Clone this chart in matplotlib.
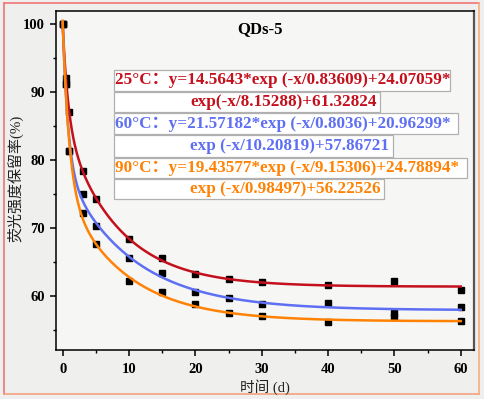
import numpy as np
import matplotlib.pyplot as plt
from matplotlib.patches import Rectangle
from matplotlib.lines import Line2D

plt.rcParams['font.family'] = ['Liberation Serif', 'Noto Sans CJK SC']

# ---- data ----
days = [0, 0.5, 1, 3, 5, 10, 15, 20, 25, 30, 40, 50, 60]
ret_25 = [100, 92.0, 87.1, 78.4, 74.3, 68.3, 65.5, 63.2, 62.4, 62.0, 61.6, 62.1, 60.8]
ret_60 = [100, 91.1, 81.3, 75.0, 70.3, 65.5, 63.4, 60.6, 59.7, 58.8, 58.9, 57.5, 58.3]
ret_90 = [100, 91.1, 81.3, 72.2, 67.6, 62.1, 60.6, 58.8, 57.5, 57.0, 56.1, 56.8, 56.3]

# fit parameters printed on the chart: A1, t1, A2, t2, y0
fit_25 = [14.5643, 0.83609, 24.07059, 8.15288, 61.32824]
fit_60 = [21.57182, 0.8036, 20.96299, 10.20819, 57.86721]
fit_90 = [19.43577, 9.15306, 24.78894, 0.98497, 56.22526]

eq_lines = [
    "25°C：y=14.5643*exp (-x/0.83609)+24.07059*",
    "exp(-x/8.15288)+61.32824",
    "60°C：y=21.57182*exp (-x/0.8036)+20.96299*",
    "exp (-x/10.20819)+57.86721",
    "90°C：y=19.43577*exp (-x/9.15306)+24.78894*",
    "exp (-x/0.98497)+56.22526",
]

c_red = '#c4101c'
c_blue = '#5f6ff3'
c_orange = '#ff8205'

W, H = 484, 399


def fx(px):
    return px / W


def fy(py):
    return 1 - py / H


def biexp(x, p):
    return p[0] * np.exp(-x / p[1]) + p[2] * np.exp(-x / p[3]) + p[4]


fig = plt.figure(figsize=(W / 100, H / 100), dpi=100, facecolor='#efefed')
ax = fig.add_axes([fx(56), fy(350), (474 - 56) / W, (350 - 11) / H])
ax.set_facecolor('#f6f6f4')

for ys in (ret_25, ret_60, ret_90):
    ax.plot(days, ys, 's', color='black', ms=5, zorder=2)

xx = np.linspace(0, 60, 600)
ax.plot(xx, biexp(xx, fit_25), color=c_red, lw=1.8, zorder=3)
ax.plot(xx, biexp(xx, fit_60), color=c_blue, lw=1.8, zorder=3)
ax.plot(xx, biexp(xx, fit_90), color=c_orange, lw=1.8, zorder=3)

ax.set_xlim(-1, 62)
ax.set_ylim(52, 101.9)
ax.set_xticks([0, 10, 20, 30, 40, 50, 60])
ax.set_xticks([5, 15, 25, 35, 45, 55], minor=True)
ax.set_yticks([60, 70, 80, 90, 100])
ax.set_yticks([55, 65, 75, 85, 95], minor=True)
ax.tick_params(which='major', direction='out', length=4.5, width=1.1, labelsize=10.5)
ax.tick_params(which='minor', direction='out', length=2.5, width=1.0)
ax.tick_params(axis='x', pad=5)
for lab in ax.get_xticklabels() + ax.get_yticklabels():
    lab.set_fontweight('bold')
for side in ['left', 'bottom', 'top']:
    ax.spines[side].set_linewidth(1.1)
ax.spines['right'].set_linewidth(1.6)
ax.spines['right'].set_color('#555555')

fig.text(fx(260), fy(29), "QDs-5", fontsize=12, fontweight='bold',
         ha='center', va='center')

fig.text(fx(265), fy(387), "时间 (d)", fontsize=10.5, ha='center', va='center',
         color='#222222')
fig.text(fx(15), fy(178), "荧光强度保留率(%)", fontsize=10.8, rotation=90,
         ha='center', va='center', color='#222222')

# equation boxes
box_right = [450, 380, 458, 393, 467, 384]
box_top = [70, 91.7, 113, 135, 157.7, 179.3]
box_bot = [90.7, 111.7, 134, 156.7, 178.3, 199.3]
text_left = [115, 190, 115, 190, 115, 190]
eq_colors = [c_red, c_red, c_blue, c_blue, c_orange, c_orange]
for i, line in enumerate(eq_lines):
    fig.patches.append(Rectangle((fx(114), fy(box_bot[i])),
                                 (box_right[i] - 114) / W,
                                 (box_bot[i] - box_top[i]) / H,
                                 transform=fig.transFigure, facecolor='white',
                                 edgecolor='#b0b0b0', lw=0.9, zorder=5))
    fig.text(fx(text_left[i]), fy((box_top[i] + box_bot[i]) / 2), line,
             fontsize=12.3, fontweight='bold', color=eq_colors[i],
             ha='left', va='center', zorder=6)

# outer frame
frame = [((4, 3), (479, 3), '#f07474'), ((4, 3), (4, 394), '#f07474'),
         ((4, 394), (479, 394), '#f3a27c'), ((479, 3), (479, 394), '#f5b07a')]
for (x0, y0), (x1, y1), col in frame:
    fig.lines.append(Line2D([fx(x0), fx(x1)], [fy(y0), fy(y1)],
                            transform=fig.transFigure, color=col, lw=1.2))

fig.savefig("out.png", dpi=100, facecolor=fig.get_facecolor())
